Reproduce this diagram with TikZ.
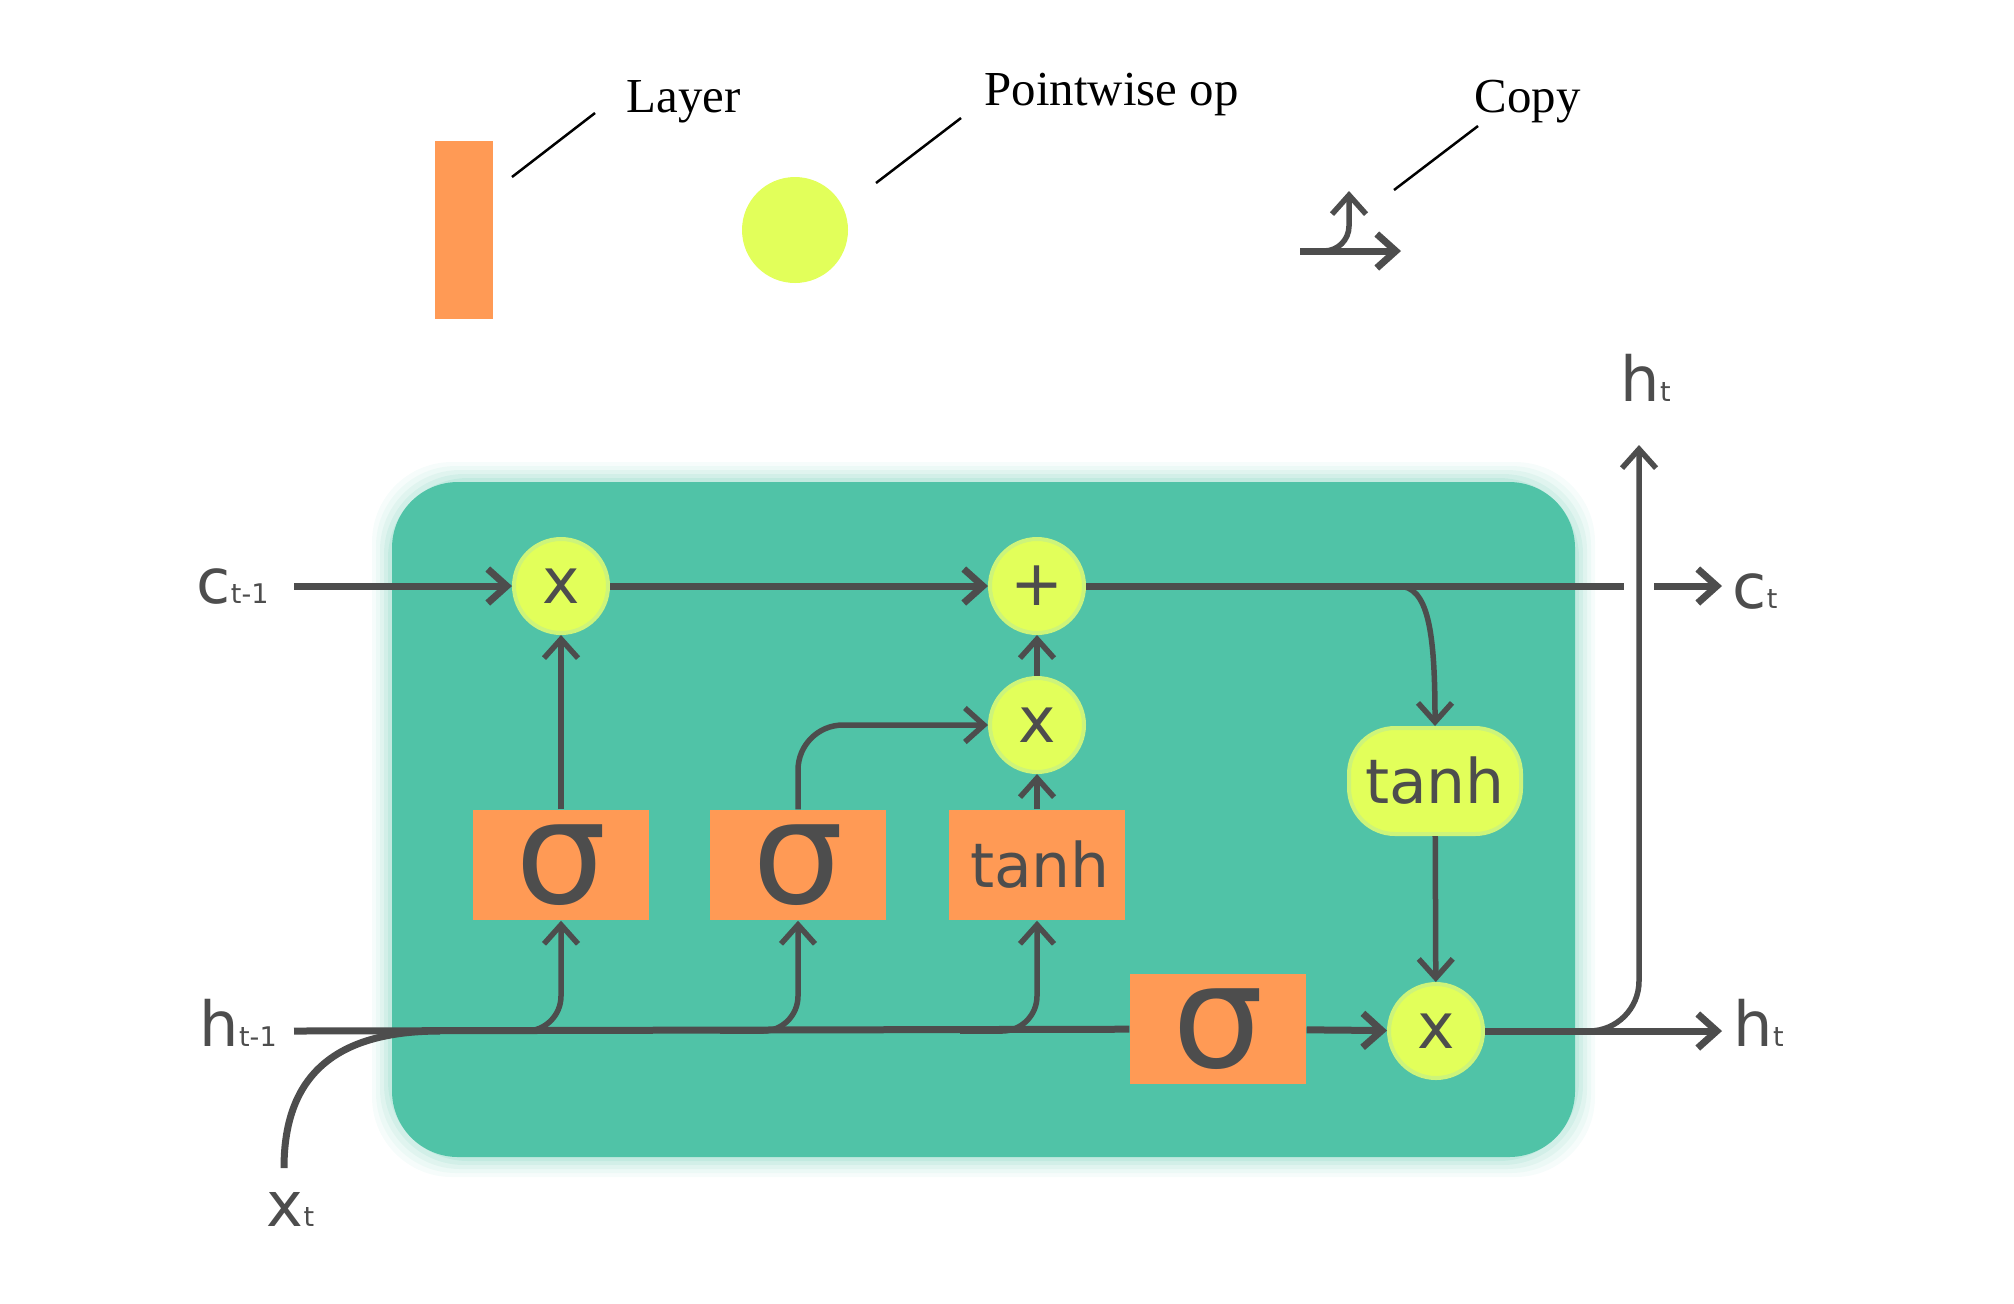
\documentclass[tikz,border=0pt]{standalone}
\usepackage{fontspec}
\usetikzlibrary{arrows.meta}
\newfontfamily\diagfont{DejaVu Sans}
\newfontfamily\legfont{Liberation Serif}
\definecolor{lstmteal}{HTML}{50C3A7}
\definecolor{lstmorange}{HTML}{FF9A55}
\definecolor{lstmyellow}{HTML}{E2FF5A}
\definecolor{lstmglow}{HTML}{CDF47A}
\definecolor{lstmdark}{HTML}{4D4D4D}
\newcommand{\lsub}[1]{{\fontsize{7.7}{8}\selectfont #1}}
\tikzset{
 layer/.style={fill=lstmorange,minimum width=17.6mm,minimum height=11mm,inner sep=0pt,text=lstmdark,font=\diagfont\fontsize{41}{41}\selectfont},
 tanhlayer/.style={layer,font=\diagfont\fontsize{17.5}{18}\selectfont},
 pwop/.style={circle,fill=lstmyellow,draw=lstmglow,line width=0.4mm,minimum size=9.4mm,inner sep=0pt,text=lstmdark,font=\diagfont\fontsize{18}{18}\selectfont},
 tanhop/.style={rectangle,rounded corners=4.6mm,fill=lstmyellow,draw=lstmglow,line width=0.4mm,minimum width=17.2mm,minimum height=10.6mm,inner sep=0pt,text=lstmdark,font=\diagfont\fontsize{17.5}{18}\selectfont},
 lbl/.style={inner sep=0pt,anchor=base west,text=lstmdark,font=\diagfont\fontsize{17.7}{18}\selectfont},
 legtext/.style={inner sep=0pt,anchor=base west,font=\legfont\fontsize{13.9}{14}\selectfont},
 rail/.style={draw=lstmdark,line width=0.7mm},
 branch/.style={draw=lstmdark,line width=0.55mm},
 lstmarrow/.style={-{Straight Barb[length=1.9mm,width=3.4mm]}},
 legline/.style={draw=black,line width=0.25mm}
}
\begin{document}
\begin{tikzpicture}[x=0.1mm,y=-0.1mm]
\useasboundingbox (0,0) rectangle (2014,1303);
\foreach \d/\o in {20/0.05,16/0.06,12/0.08,8/0.1,4/0.12}{\fill[lstmteal,opacity=\o,rounded corners=8mm] ({392-\d},{482-\d}) rectangle ({1575+\d},{1157+\d});}
\fill[lstmteal,rounded corners=6.6mm] (392,482) rectangle (1575,1157);
\node[layer,minimum width=5.8mm,minimum height=17.8mm] (leglayer) at (464,230) {};
\node[pwop,draw=none,minimum size=10.6mm] (legpw) at (795,230) {};
\node[legtext] (laytxt) at (626,112) {Layer};
\node[legtext] (pwtxt) at (984,105) {Pointwise op};
\node[legtext] (cptxt) at (1474,112) {Copy};
\coordinate (layp1) at (512,177);\coordinate (layp2) at (595,113);
\coordinate (pwp1) at (876,183);\coordinate (pwp2) at (961,118);
\coordinate (cpp1) at (1394,190);\coordinate (cpp2) at (1478,126);
\draw[legline] (layp1)--(layp2) (pwp1)--(pwp2) (cpp1)--(cpp2);
\coordinate (cpa) at (1300,251);\coordinate (cpb) at (1401,251);\coordinate (cpc) at (1349,191);
\draw[rail,lstmarrow] (cpa)--(cpb);
\draw[branch,lstmarrow,rounded corners=2.5mm] (cpa)-|(cpc);
\node[pwop] (x1) at (561,586) {x};
\node[pwop] (plus) at (1037,586) {+};
\node[pwop] (x2) at (1037,725) {x};
\node[pwop] (x3) at (1436,1031) {x};
\node[layer] (s1) at (561,865) {σ};
\node[layer] (s2) at (798,865) {σ};
\node[tanhlayer] (tanhb) at (1037,865) {\hspace{0.6mm}tanh};
\node[layer] (s3) at (1218,1029) {σ};
\node[tanhop] (tanhc) at (1435,781) {tanh};
\node[lbl] (ctm1) at (196,603) {c\lsub{t-1}};
\node[lbl] (htm1) at (199,1046) {h\lsub{t-1}};
\node[lbl] (xt) at (266,1226) {x\lsub{t}};
\node[lbl] (ct) at (1732,608) {c\lsub{t}};
\node[lbl] (ht) at (1733,1046) {h\lsub{t}};
\node[lbl] (httop) at (1620,401) {h\lsub{t}};
\coordinate (cin) at (294,586);\coordinate (cfork) at (1398,586);\coordinate (cgapa) at (1624,586);
\coordinate (cgapb) at (1654,586);\coordinate (cout) at (1722,586);
\coordinate (hin) at (294,1031);\coordinate (hout) at (1722,1031);\coordinate (hjoin) at (440,1031);
\coordinate (xin) at (284,1168);\coordinate (htop) at (1639,445);
\coordinate (hfork1) at (480,1031);\coordinate (hfork2) at (720,1031);\coordinate (hfork3) at (960,1031);\coordinate (hfork4) at (1560,1031);
\draw[rail,lstmarrow] (cin)--(x1);
\draw[rail,lstmarrow] (x1)--(plus);
\draw[rail] (plus)--(cgapa);
\draw[rail,lstmarrow] (cgapb)--(cout);
\draw[branch,lstmarrow] (cfork) .. controls (1428,586) and (1435,630) .. (tanhc);
\draw[branch,lstmarrow] (tanhc)--(x3);
\draw[branch,lstmarrow] (s1)--(x1);
\draw[branch,lstmarrow] (tanhb)--(x2);
\draw[branch,lstmarrow] (x2)--(plus);
\draw[branch,lstmarrow,rounded corners=4.5mm] (s2.north)|-(x2);
\draw[rail] (hin)--(s3);
\draw[rail] (xin) .. controls (284,1080) and (330,1031) .. (hjoin);
\draw[branch,lstmarrow,rounded corners=3.5mm] (hfork1)-|(s1.south);
\draw[branch,lstmarrow,rounded corners=3.5mm] (hfork2)-|(s2.south);
\draw[branch,lstmarrow,rounded corners=3.5mm] (hfork3)-|(tanhb.south);
\draw[rail,lstmarrow] (s3)--(x3);
\draw[rail,lstmarrow] (x3)--(hout);
\draw[branch,lstmarrow,rounded corners=5mm] (hfork4)-|(htop);
\end{tikzpicture}
\end{document}
